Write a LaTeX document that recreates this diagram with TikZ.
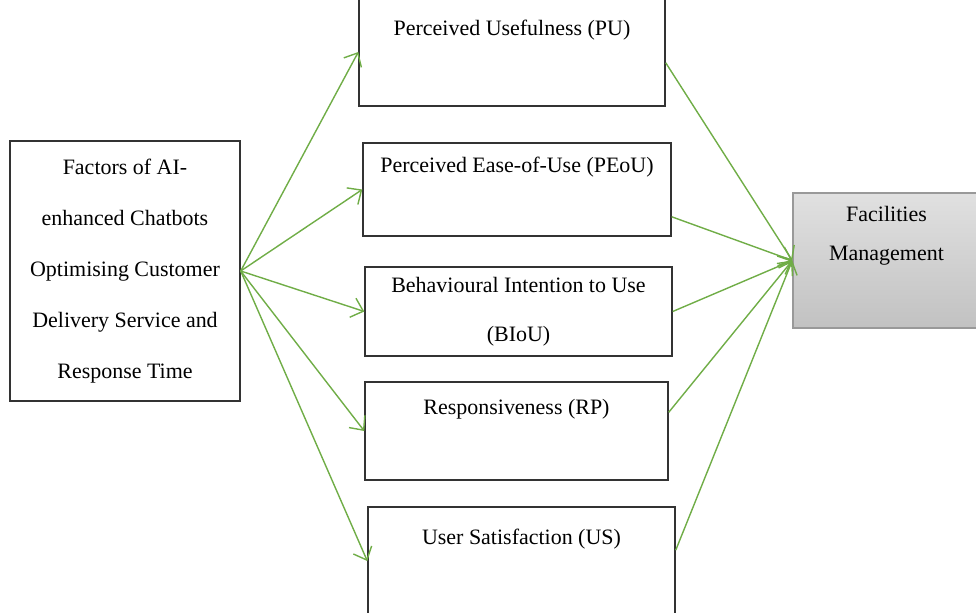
\documentclass[tikz,border=0pt]{standalone}
\usepackage{fontspec}
\setmainfont{Liberation Serif}
\usetikzlibrary{arrows.meta}
\definecolor{linegreen}{RGB}{112,173,71}
\tikzstyle{factor} = [rectangle, minimum width=6.1cm, text centered, align=center, draw=black!80, line width=0.8pt, fill=none, font=\fontsize{12.5}{28}\selectfont]
\tikzstyle{source} = [rectangle, minimum width=4.6cm, minimum height=5.2cm, text centered, align=center, draw=black!80, line width=0.8pt, fill=none, font=\fontsize{12.5}{29}\selectfont]
\tikzstyle{target} = [rectangle, minimum width=3.74cm, minimum height=2.7cm, text centered, align=center, draw=black!40, line width=0.8pt, top color=black!12, bottom color=black!24, font=\fontsize{12.5}{22}\selectfont]
\tikzstyle{arrow} = [draw=linegreen, line width=0.8pt, -{Straight Barb[length=2.2mm,width=4mm]}]

\begin{document}
\begin{tikzpicture}
\useasboundingbox (0,0) rectangle (19.52,-12.24);
\node[source] (factors) at (2.5,-5.42) {Factors of AI-\\enhanced Chatbots\\Optimising Customer\\Delivery Service and\\Response Time};
\node[factor, minimum width=6.12cm, minimum height=2.16cm] (pu) at (10.24,-1.04) {Perceived Usefulness (PU)\\ \mbox{}};
\node[factor, minimum width=6.16cm, minimum height=1.86cm] (peou) at (10.34,-3.79) {Perceived Ease-of-Use (PEoU)\\ \mbox{}};
\node[factor, minimum width=6.14cm, minimum height=1.78cm] (biou) at (10.37,-6.23) {Behavioural Intention to Use\\(BIoU)};
\node[factor, minimum width=6.06cm, minimum height=1.96cm] (rp) at (10.33,-8.62) {Responsiveness (RP)\\ \mbox{}};
\node[factor, minimum width=6.14cm, minimum height=2.16cm] (us) at (10.43,-11.22) {User Satisfaction (US)\\ \mbox{}};
\node[target] (fm) at (17.73,-5.21) {Facilities\\Management\\[9pt] \mbox{}};
% factors to each construct
\draw[arrow] (factors.east) -- (pu.west);
\draw[arrow] (factors.east) -- (peou.west);
\draw[arrow] (factors.east) -- (biou.west);
\draw[arrow] (factors.east) -- (rp.west);
\draw[arrow] (factors.east) -- (us.west);
% constructs to facilities management
\draw[arrow] (pu.-4) -- (fm.west);
\draw[arrow] (peou.-10) -- (fm.west);
\draw[arrow] (biou.east) -- (fm.west);
\draw[arrow] (rp.7) -- (fm.west);
\draw[arrow] (us.4) -- (fm.west);
\end{tikzpicture}
\end{document}
